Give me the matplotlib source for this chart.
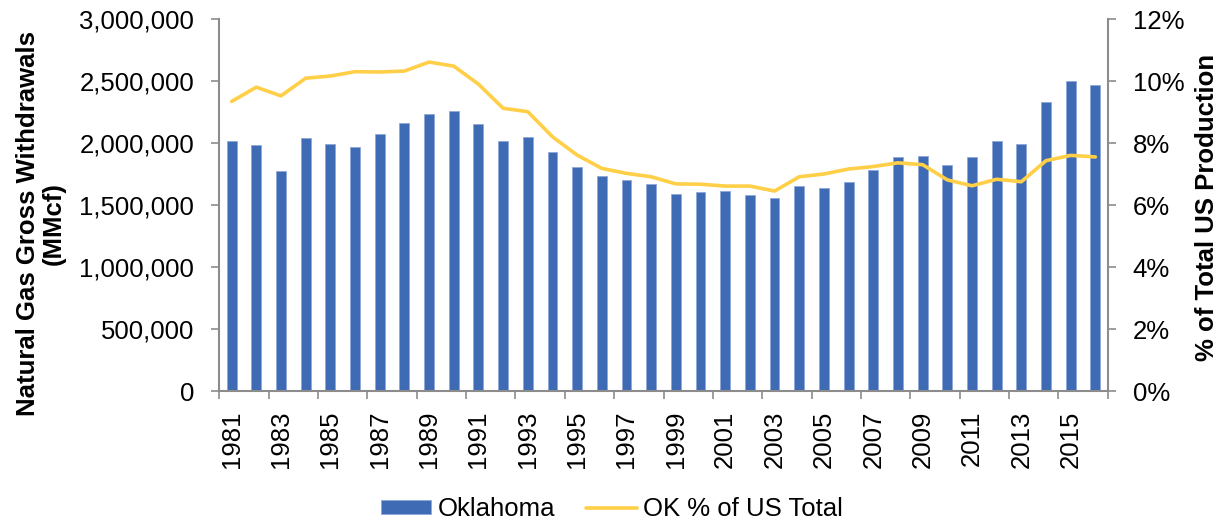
import numpy as np
import matplotlib
matplotlib.use('Agg')
import matplotlib.pyplot as plt
from matplotlib.ticker import FuncFormatter

plt.rcParams['font.family'] = ['Liberation Sans', 'DejaVu Sans']

years = list(range(1981, 2017))
withdrawals = [2016000, 1984000, 1777000, 2045000, 1992000, 1970000, 2073000, 2164000,
               2236000, 2258000, 2153000, 2016000, 2051000, 1932000, 1809000, 1734000,
               1702000, 1669000, 1591000, 1610000, 1613000, 1581000, 1556000, 1653000,
               1637000, 1688000, 1785000, 1887000, 1900000, 1825000, 1889000, 2021000,
               1992000, 2331000, 2500000, 2468000]
ok_pct = [9.35, 9.81, 9.53, 10.10, 10.17, 10.31, 10.30, 10.33, 10.62, 10.49,
          9.91, 9.13, 9.02, 8.21, 7.62, 7.19, 7.03, 6.92, 6.69, 6.68,
          6.62, 6.62, 6.46, 6.92, 7.01, 7.17, 7.25, 7.37, 7.31, 6.82,
          6.63, 6.84, 6.76, 7.44, 7.61, 7.56]
bar_label = 'Oklahoma'
line_label = 'OK % of US Total'

FS = 18.5
GRAY = '#8C8C8C'
BAR = '#3E6BB4'
LINE = '#FFCF47'

fig = plt.figure(figsize=(12.26, 5.2), dpi=100)
ax = fig.add_axes([219.3 / 1226, 1 - 391.3 / 520, (1107.7 - 219.3) / 1226, (391.3 - 19.3) / 520])
x = np.arange(len(years))
bars = ax.bar(x, withdrawals, width=0.4, color=BAR, edgecolor='#8FA8D8', linewidth=0.6,
              label=bar_label, zorder=2)
ax.set_xlim(-0.5, len(years) - 0.5)
ax.set_ylim(0, 3000000)
ax.set_yticks(np.arange(0, 3000001, 500000))
ax.yaxis.set_major_formatter(FuncFormatter(lambda v, p: f'{int(v):,}'))

ax.set_xticks(np.arange(-0.5, len(years) + 0.5, 2))
ax.set_xticklabels([])
ax.set_xticks(x[::2], minor=True)
ax.set_xticklabels([str(y) for y in years[::2]], minor=True, rotation=90)
ax.tick_params(axis='x', which='major', length=6, width=1.2, color=GRAY, direction='out')
ax.tick_params(axis='x', which='minor', length=0, pad=14, labelsize=FS)
ax.tick_params(axis='y', length=6, width=1.2, color=GRAY, direction='out', pad=12, labelsize=FS)

for s in ['top', 'right']:
    ax.spines[s].set_visible(False)
for s in ['left', 'bottom']:
    ax.spines[s].set_color(GRAY)
    ax.spines[s].set_linewidth(1.5)

ax2 = ax.twinx()
line, = ax2.plot(x, ok_pct, color=LINE, lw=2.6, label=line_label, zorder=3,
                 solid_joinstyle='round', solid_capstyle='round')
ax2.set_ylim(0, 12)
ax2.set_yticks(np.arange(0, 13, 2))
ax2.yaxis.set_major_formatter(FuncFormatter(lambda v, p: f'{v:.0f}%'))
ax2.tick_params(axis='y', length=6, width=1.2, color=GRAY, direction='out', pad=12, labelsize=FS)
for s in ['top', 'left', 'bottom']:
    ax2.spines[s].set_visible(False)
ax2.spines['right'].set_color(GRAY)
ax2.spines['right'].set_linewidth(1.5)

fig.text(40.5 / 1226, 1 - 224 / 520, 'Natural Gas Gross Withdrawals\n(MMcf)', rotation=90,
         ha='center', va='center', fontsize=FS, fontweight='bold', multialignment='center',
         linespacing=1.1)
fig.text(1207 / 1226, 1 - 207 / 520, '% of Total US Production', rotation=90,
         ha='center', va='center', fontsize=FS, fontweight='bold')

fig.legend([bars, line], [bar_label, line_label], loc='center',
           bbox_to_anchor=(612 / 1226, 1 - 509 / 520), ncol=2, frameon=False, fontsize=FS,
           handlelength=1.96, handleheight=0.5, handletextpad=0.25, columnspacing=1.2,
           borderpad=0)

fig.savefig('out.png', dpi=100)
